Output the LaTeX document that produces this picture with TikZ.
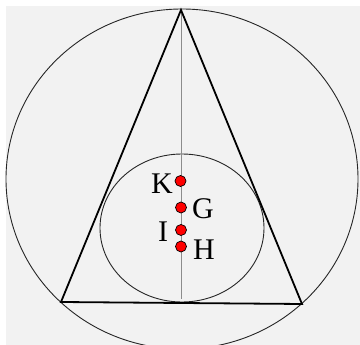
\documentclass[tikz,border=0pt]{standalone}
\usepackage{fontspec}
\setmainfont{Liberation Serif}
\begin{document}
\begin{tikzpicture}[
    x=1pt, y=-1pt,
    side/.style={draw=black, line width=1.8pt},
    circ/.style={draw=black!85, line width=0.9pt},
    axis/.style={draw=black!45, line width=0.6pt},
    centre/.style={circle, draw=black, fill=red, line width=0.7pt, minimum size=11pt, inner sep=0pt},
    lbl/.style={font=\fontsize{30}{30}\selectfont, inner sep=0pt}
]

% Frame
\clip (0,0) rectangle (360,345);
\fill[white] (0,0) rectangle (360,345);
\fill[black!5] (6,6) rectangle (360,345);

% Vertices
\coordinate (A) at (181,10);
\coordinate (B) at (61,302);
\coordinate (C) at (302,304);

% Circles
\draw[circ] (182,179) ellipse [x radius=176pt, y radius=170pt];
\draw[circ] (182,228) ellipse [x radius=82pt, y radius=74pt];

% Axis
\coordinate (foot) at (181,299);
\draw[axis] (A) -- (foot);

% Triangle
\draw[side, line join=miter] (A) -- (B) -- (C) -- cycle;

% Centres
\node[centre] (K) at (180.5,181) {};
\node[centre] (G) at (181,207.5) {};
\node[centre] (I) at (181,230) {};
\node[centre] (H) at (181,246.5) {};

% Labels
\node[lbl] (Klbl) at (162,184) {K};
\node[lbl] (Glbl) at (203,209) {G};
\node[lbl] (Ilbl) at (163,232) {I};
\node[lbl] (Hlbl) at (204,250) {H};

\end{tikzpicture}
\end{document}
